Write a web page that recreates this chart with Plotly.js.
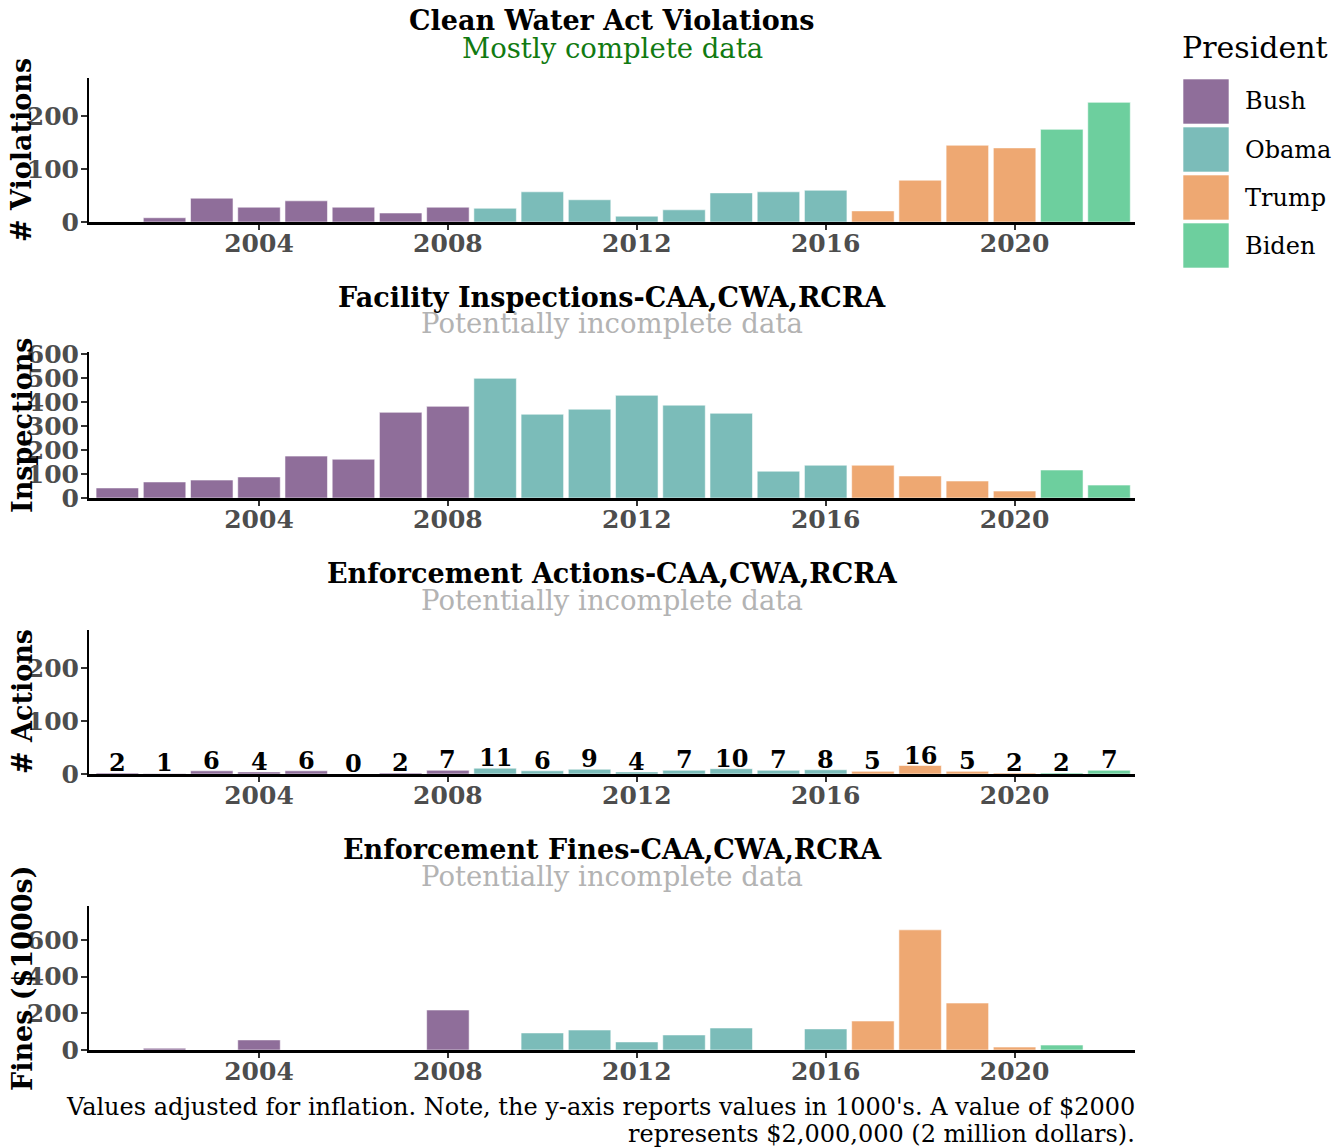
<!DOCTYPE html>
<html>
<head>
<meta charset="utf-8">
<script src="https://cdn.plot.ly/plotly-3.0.1.min.js"></script>
<style>html,body{margin:0;padding:0;background:#fff;}#chart{width:1341px;height:1147px;}</style>
</head>
<body>
<div id="chart"></div>
<script>
// ---- data ----
const years = [2001,2002,2003,2004,2005,2006,2007,2008,2009,2010,2011,2012,2013,2014,2015,2016,2017,2018,2019,2020,2021,2022];
const presidentByYear = ["Bush","Bush","Bush","Bush","Bush","Bush","Bush","Bush","Obama","Obama","Obama","Obama","Obama","Obama","Obama","Obama","Trump","Trump","Trump","Trump","Biden","Biden"];
const presidents = ["Bush","Obama","Trump","Biden"];
const presidentColors = ["#8F6E9A","#7BBCB9","#EEA872","#6DCF9E"];

const cwaViolations = [0,8,45,28,40,28,17,28,26,57,42,11,23,55,57,60,21,79,145,140,175,226];
const inspections = [42,67,75,88,175,162,358,383,500,350,371,429,388,354,112,137,137,92,71,29,117,54];
const enforcementActions = [2,1,6,4,6,0,2,7,11,6,9,4,7,10,7,8,5,16,5,2,2,7];
const enforcementFines = [0,10,0,55,0,0,0,218,0,93,109,44,82,120,0,115,158,655,256,16,27,0];

const panelTitles = ["Clean Water Act Violations","Facility Inspections-CAA,CWA,RCRA","Enforcement Actions-CAA,CWA,RCRA","Enforcement Fines-CAA,CWA,RCRA"];
const panelSubtitles = ["Mostly complete data","Potentially incomplete data","Potentially incomplete data","Potentially incomplete data"];
const yTitles = ["# Violations","Inspections","# Actions","Fines ($1000s)"];
const xTickVals = [2004,2008,2012,2016,2020];
const yTickVals = [[0,100,200],[0,100,200,300,400,500,600],[0,100,200],[0,200,400,600]];
const yRanges = [[0,272],[0,610],[0,272],[0,785]];
const footnoteLines = ["Values adjusted for inflation. Note, the y-axis reports values in 1000's. A value of $2000","represents $2,000,000 (2 million dollars)."];

// ---- layout helpers (pixel geometry) ----
const W = 1341, H = 1147;
const FONT = "DejaVu Serif";
const px = v => v / W;
const py = v => 1 - v / H;
const xDom = [px(89), px(1135)];
const panelPx = [[78,222],[352,498],[630,774],[906,1050]];
const titlePx = [[21,48],[297,323],[573,600],[849,876]];
const subColors = ["#117A11","#B3B3B3","#B3B3B3","#B3B3B3"];

const colorOf = p => presidentColors[presidents.indexOf(p)];
const barColors = presidentByYear.map(colorOf);
const series = [cwaViolations, inspections, enforcementActions, enforcementFines];

const data = series.map((vals, i) => ({
  type: "bar",
  x: years,
  y: vals,
  width: 0.9,
  xaxis: i === 0 ? "x" : "x" + (i + 1),
  yaxis: i === 0 ? "y" : "y" + (i + 1),
  marker: {color: barColors, line: {color: "rgba(255,255,255,0.55)", width: 1}},
  showlegend: false,
  hoverinfo: "x+y"
}));

const layout = {
  width: W, height: H,
  margin: {l: 0, r: 0, t: 0, b: 0},
  paper_bgcolor: "#fff", plot_bgcolor: "#fff",
  font: {family: FONT, color: "#000"},
  showlegend: false,
  bargap: 0.1,
  annotations: [],
  shapes: []
};

for (let i = 0; i < 4; i++) {
  const sfx = i === 0 ? "" : String(i + 1);
  const [top, bot] = panelPx[i];
  layout["xaxis" + sfx] = {
    domain: xDom,
    anchor: "y" + sfx,
    range: [2000.4, 2022.55],
    tickvals: xTickVals,
    ticktext: xTickVals.map(String),
    ticks: "outside", ticklen: 5, tickwidth: 2, tickcolor: "#333",
    ticklabelstandoff: -8,
    tickfont: {family: FONT, size: 25, color: "#4D4D4D", weight: "bold"},
    showline: true, linecolor: "#000", linewidth: 3,
    showgrid: false, zeroline: false, fixedrange: true
  };
  layout["yaxis" + sfx] = {
    domain: [py(bot), py(top)],
    anchor: "x" + sfx,
    range: yRanges[i],
    tickvals: yTickVals[i],
    ticktext: yTickVals[i].map(String),
    ticks: "outside", ticklen: 6, tickwidth: 2, tickcolor: "#333",
    ticklabelstandoff: -3,
    tickfont: {family: FONT, size: 25, color: "#4D4D4D", weight: "bold"},
    showline: true, linecolor: "#000", linewidth: 2,
    showgrid: false, zeroline: false, fixedrange: true
  };
  layout.annotations.push({
    xref: "paper", yref: "paper", x: px(612), y: py(titlePx[i][0]),
    xanchor: "center", yanchor: "middle", showarrow: false,
    text: panelTitles[i], font: {family: FONT, size: 27, color: "#000", weight: "bold"}
  });
  layout.annotations.push({
    xref: "paper", yref: "paper", x: px(612), y: py(titlePx[i][1]),
    xanchor: "center", yanchor: "middle", showarrow: false,
    text: panelSubtitles[i], font: {family: FONT, size: 27.5, color: subColors[i]}
  });
  layout.annotations.push({
    xref: "paper", yref: "paper", x: px(22), y: py((top + bot) / 2),
    xanchor: "center", yanchor: "middle", showarrow: false, textangle: -90,
    text: yTitles[i], font: {family: FONT, size: 27, color: "#000", weight: "bold"}
  });
}

// value labels on the enforcement-actions bars (positioned by the data axes)
years.forEach((yr, k) => {
  layout.annotations.push({
    xref: "x3", yref: "y3", x: yr, y: enforcementActions[k],
    xanchor: "center", yanchor: "bottom", yshift: -6, showarrow: false,
    text: String(enforcementActions[k]),
    font: {family: FONT, size: 24, color: "#000", weight: "bold"}
  });
});

// footnote
footnoteLines.forEach((line, k) => {
  layout.annotations.push({
    xref: "paper", yref: "paper", x: px(1137), y: py(1107 + k * 27),
    xanchor: "right", yanchor: "middle", align: "right", showarrow: false,
    text: line, font: {family: FONT, size: 24, color: "#000"}
  });
});

// custom legend
layout.annotations.push({
  xref: "paper", yref: "paper", x: px(1180), y: py(48),
  xanchor: "left", yanchor: "middle", showarrow: false,
  text: "President", font: {family: FONT, size: 30, color: "#000"}
});
const legTop = 79, legStep = 48, legSize = 45;
presidents.forEach((p, k) => {
  const y0 = legTop + k * legStep;
  layout.shapes.push({
    type: "rect", xref: "paper", yref: "paper",
    x0: px(1183), x1: px(1229), y0: py(y0 + legSize), y1: py(y0),
    fillcolor: presidentColors[k], line: {color: "rgba(255,255,255,0.6)", width: 1}
  });
  layout.annotations.push({
    xref: "paper", yref: "paper", x: px(1243), y: py(y0 + legSize / 2),
    xanchor: "left", yanchor: "middle", showarrow: false,
    text: p, font: {family: FONT, size: 24, color: "#000"}
  });
});

Plotly.newPlot("chart", data, layout, {displayModeBar: false, staticPlot: true});
</script>
</body>
</html>
